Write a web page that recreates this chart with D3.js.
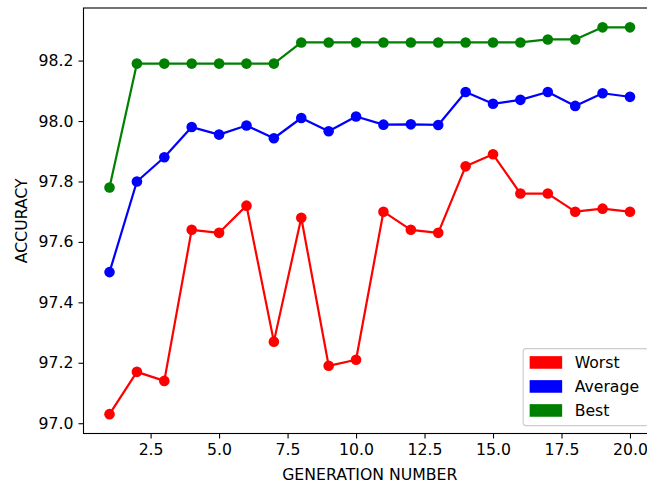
<!DOCTYPE html>
<html>
<head>
<meta charset="utf-8">
<script src="https://cdn.jsdelivr.net/npm/d3@7"></script>
<style>
  html, body { margin: 0; padding: 0; background: #fff; }
  svg { display: block; font-family: "DejaVu Sans", sans-serif; }
</style>
</head>
<body>
<svg id="chart" width="647" height="484"></svg>
<script>
// Accuracy per generation of the genetic search
const generations = d3.range(1, 21);
const worst = [97.03, 97.17, 97.14, 97.64, 97.63, 97.72, 97.27, 97.68, 97.19, 97.21,
               97.70, 97.64, 97.63, 97.85, 97.89, 97.76, 97.76, 97.70, 97.71, 97.70];
const average = [97.50, 97.80, 97.88, 97.98, 97.955, 97.985, 97.943, 98.01, 97.966, 98.015,
                 97.988, 97.989, 97.987, 98.096, 98.057, 98.07, 98.096, 98.05, 98.092, 98.08];
const best = [97.78, 98.19, 98.19, 98.19, 98.19, 98.19, 98.19, 98.26, 98.26, 98.26,
              98.26, 98.26, 98.26, 98.26, 98.26, 98.26, 98.27, 98.27, 98.31, 98.31];
const seriesNames = ["Worst", "Average", "Best"];
const seriesColors = ["#ff0000", "#0000ff", "#008000"];
const xTicks = [2.5, 5.0, 7.5, 10.0, 12.5, 15.0, 17.5, 20.0];
const yTicks = [97.0, 97.2, 97.4, 97.6, 97.8, 98.0, 98.2];

const series = [worst, average, best];

const svg = d3.select("#chart");
const plotLeft = 83.5, plotRight = 656, plotTop = 8, plotBottom = 433.5;
const fontSize = 15.7;

// Data limits padded by 5% on each side
const xMin = d3.min(generations), xMax = d3.max(generations);
const xPad = (xMax - xMin) * 0.05;
const allY = series.flat();
const yMin = d3.min(allY), yMax = d3.max(allY);
const yPad = (yMax - yMin) * 0.05;

const x = d3.scaleLinear().domain([xMin - xPad, xMax + xPad]).range([plotLeft, plotRight]);
const y = d3.scaleLinear().domain([yMin - yPad, yMax + yPad]).range([plotBottom, plotTop]);

// Lines and markers
const line = d3.line().x((d, i) => x(generations[i])).y(d => y(d));
series.forEach((vals, k) => {
  const g = svg.append("g");
  g.append("path")
    .attr("d", line(vals))
    .attr("fill", "none")
    .attr("stroke", seriesColors[k])
    .attr("stroke-width", 2.2)
    .attr("stroke-linejoin", "round")
    .attr("stroke-linecap", "square");
  g.selectAll("circle").data(vals).join("circle")
    .attr("cx", (d, i) => x(generations[i]))
    .attr("cy", d => y(d))
    .attr("r", 5.3)
    .attr("fill", seriesColors[k]);
});

// Axes
const xAxis = d3.axisBottom(x).tickValues(xTicks).tickFormat(d3.format(".1f")).tickSize(5).tickPadding(5);
const yAxis = d3.axisLeft(y).tickValues(yTicks).tickFormat(d3.format(".1f")).tickSize(5).tickPadding(5);

const gx = svg.append("g").attr("transform", `translate(0,${plotBottom})`).call(xAxis);
const gy = svg.append("g").attr("transform", `translate(${plotLeft},0)`).call(yAxis);
[gx, gy].forEach(g => {
  g.select(".domain").remove();
  g.selectAll(".tick line").attr("stroke", "#000").attr("stroke-width", 1.1);
  g.selectAll(".tick text").attr("fill", "#000")
    .style("font-size", fontSize + "px").style("font-family", "DejaVu Sans, sans-serif");
});

// Spines
svg.append("rect")
  .attr("x", plotLeft).attr("y", plotTop)
  .attr("width", plotRight - plotLeft).attr("height", plotBottom - plotTop)
  .attr("fill", "none").attr("stroke", "#000").attr("stroke-width", 1.1);

// Axis titles
svg.append("text")
  .attr("x", (plotLeft + plotRight) / 2).attr("y", 480)
  .attr("text-anchor", "middle")
  .style("font-size", fontSize + "px")
  .text("GENERATION NUMBER");
svg.append("text")
  .attr("transform", `translate(27,${(plotTop + plotBottom) / 2}) rotate(-90)`)
  .attr("text-anchor", "middle")
  .style("font-size", fontSize + "px")
  .text("ACCURACY");

// Legend
const lgX = plotRight - 0.5 * fontSize - 125, lgBottom = plotBottom - 0.5 * fontSize;
const rowH = 24, lgH = 77;
const legend = svg.append("g");
legend.append("rect")
  .attr("x", lgX).attr("y", lgBottom - lgH)
  .attr("width", 125).attr("height", lgH)
  .attr("rx", 3)
  .attr("fill", "#fff").attr("fill-opacity", 0.8)
  .attr("stroke", "#cccccc").attr("stroke-width", 1.1);
seriesNames.forEach((name, k) => {
  const cy = lgBottom - lgH + 13.8 + k * rowH;
  legend.append("rect")
    .attr("x", lgX + 6.5).attr("y", cy - 6.3)
    .attr("width", 32.5).attr("height", 12.6)
    .attr("fill", seriesColors[k]);
  legend.append("text")
    .attr("x", lgX + 51.5).attr("y", cy).attr("dy", "0.36em")
    .style("font-size", fontSize + "px")
    .text(name);
});
</script>
</body>
</html>
